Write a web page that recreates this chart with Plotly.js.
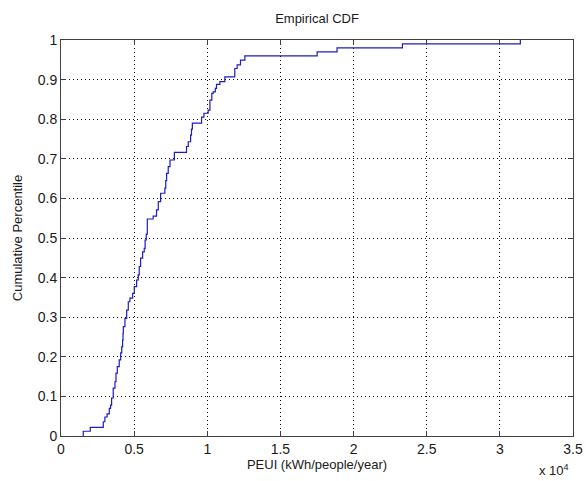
<!DOCTYPE html>
<html>
<head>
<meta charset="utf-8">
<script src="https://cdn.plot.ly/plotly-3.0.1.min.js"></script>
<style>
html,body{margin:0;padding:0;background:#fff;}
#chart{width:586px;height:481px;}
</style>
</head>
<body>
<div id="chart"></div>
<script>
// PEUI values in units of 10^4 kWh/people/year where the empirical CDF steps
const peuiSteps = [0.152,0.152,0.200,0.289,0.300,0.315,0.330,0.339,0.346,0.357,0.369,0.376,0.385,0.398,0.408,0.415,0.421,0.424,0.426,0.437,0.449,0.460,0.471,0.490,0.501,0.517,0.528,0.535,0.544,0.558,0.569,0.575,0.583,0.590,0.630,0.653,0.665,0.681,0.710,0.716,0.722,0.733,0.745,0.775,0.858,0.870,0.886,0.892,0.898,0.961,0.977,1.006,1.018,1.031,1.040,1.055,1.063,1.086,1.120,1.188,1.204,1.227,1.257,1.751,1.887,2.334,3.140];
// Cumulative percentile level reached at each step
const cdfLevels = [0,0.012,0.022,0.036,0.048,0.056,0.070,0.078,0.096,0.121,0.137,0.159,0.175,0.192,0.210,0.225,0.242,0.259,0.276,0.297,0.318,0.339,0.348,0.360,0.377,0.394,0.407,0.428,0.449,0.465,0.474,0.495,0.510,0.548,0.555,0.571,0.592,0.613,0.626,0.645,0.663,0.680,0.697,0.716,0.731,0.743,0.760,0.775,0.790,0.805,0.815,0.823,0.848,0.865,0.869,0.878,0.888,0.895,0.907,0.928,0.937,0.949,0.960,0.970,0.980,0.990,1.000];
const xTickVals = [0,0.5,1,1.5,2,2.5,3,3.5];
const xTickText = ['0','0.5','1','1.5','2','2.5','3','3.5'];
const yTickVals = [0,0.1,0.2,0.3,0.4,0.5,0.6,0.7,0.8,0.9,1];
const yTickText = ['0','0.1','0.2','0.3','0.4','0.5','0.6','0.7','0.8','0.9','1'];

const fam = 'Liberation Sans, Arial, sans-serif';
const tickFont = {family:fam, size:14, color:'#1a1a1a'};
const labelFont = {family:fam, size:13, color:'#1a1a1a'};

const trace = {
  x: peuiSteps, y: cdfLevels, type:'scatter', mode:'lines',
  line:{shape:'hv', color:'#1c1cc0', width:1.2},
  hoverinfo:'skip'
};

const axisCommon = {
  showline:true, linecolor:'#404040', linewidth:1, mirror:'ticks',
  ticks:'inside', ticklen:5, tickcolor:'#404040', tickwidth:1,
  showgrid:true, gridcolor:'#000', gridwidth:1, griddash:'1px,3px',
  zeroline:false, tickfont:tickFont, automargin:false
};

const layout = {
  width:586, height:481,
  paper_bgcolor:'#fff', plot_bgcolor:'#fff',
  margin:{l:61, r:13, t:40, b:45},
  showlegend:false,
  title:{text:'Empirical CDF', font:labelFont, x:0.541, xanchor:'center', y:0.962, yanchor:'middle'},
  xaxis:Object.assign({}, axisCommon, {
    range:[0,3.5], tickmode:'array', tickvals:xTickVals, ticktext:xTickText,
    title:{text:'PEUI (kWh/people/year)', font:labelFont, standoff:4}
  }),
  yaxis:Object.assign({}, axisCommon, {
    range:[0,1], tickmode:'array', tickvals:yTickVals, ticktext:yTickText,
    title:{text:'Cumulative Percentile', font:labelFont, standoff:12}
  }),
  annotations:[{
    xref:'paper', yref:'paper', x:0.962, y:-0.11, xanchor:'center', yanchor:'bottom',
    text:'x 10<sup>4</sup>', showarrow:false, font:{family:fam, size:13, color:'#1a1a1a'}
  }]
};

Plotly.newPlot('chart', [trace], layout, {displayModeBar:false, staticPlot:true});
</script>
</body>
</html>
